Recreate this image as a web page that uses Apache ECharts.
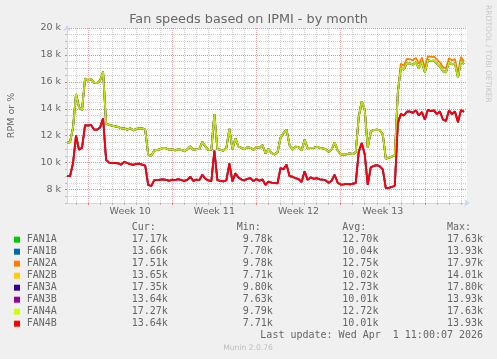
<!DOCTYPE html>
<html>
<head>
<meta charset="utf-8">
<script src="https://cdn.jsdelivr.net/npm/echarts@6/dist/echarts.min.js"></script>
<style>
html,body{margin:0;padding:0;background:#F0F0F0;}
#chart{width:497px;height:359px;}
</style>
</head>
<body>
<div id="chart"></div>
<script>
// ---------- data ----------
const chartTitle = 'Fan speeds based on IPMI - by month';
const yAxisTitle = 'RPM or %';
const fanNames  = ['FAN1A','FAN1B','FAN2A','FAN2B','FAN3A','FAN3B','FAN4A','FAN4B'];
const fanColors = ['#00CC00','#0066B3','#FF8000','#FFCC00','#330099','#990099','#CCFF00','#FF0000'];
const curVals = ['17.17k','13.66k','17.51k','13.65k','17.35k','13.64k','17.27k','13.64k'];
const minVals = ['9.78k','7.70k','9.78k','7.71k','9.80k','7.63k','9.79k','7.71k'];
const avgVals = ['12.70k','10.04k','12.75k','10.02k','12.73k','10.01k','12.72k','10.01k'];
const maxVals = ['17.63k','13.93k','17.97k','14.01k','17.80k','13.93k','17.63k','13.93k'];
const yTickValues = [8, 10, 12, 14, 16, 18, 20];       // thousands of RPM
const weekLabels = ['Week 10', 'Week 11', 'Week 12', 'Week 13'];
const lastUpdate = 'Last update: Wed Apr  1 11:00:07 2026';

// 6-hour samples (thousands of RPM), starting Fri Feb 27 2026 06:00
// "A" fans run together, "B" fans run together
const fanA = [
 11.5, 11.5, 12.6, 15.1, 14.1, 13.9, 16.25, 16.1, 16.2, 15.95,
 15.9, 16.1, 16.75, 12.9, 12.8, 12.75, 12.7, 12.65, 12.55, 12.55,
 12.45, 12.55, 12.4, 12.5, 12.55, 12.55, 12.45, 10.6, 10.5, 10.9,
 10.95, 11.0, 11.1, 11.05, 10.95, 11.0, 10.9, 11.0, 10.95, 10.85,
 11.0, 11.2, 10.95, 11.0, 11.0, 11.55, 11.2, 10.95, 10.95, 13.6,
 11.0, 10.95, 10.9, 11.1, 12.5, 11.0, 11.8, 11.2, 11.1, 11.0,
 11.15, 11.1, 10.95, 11.15, 11.1, 11.3, 10.7, 11.0, 10.72, 10.6,
 10.77, 11.85, 12.2, 12.45, 11.3, 10.96, 11.18, 11.15, 10.9, 11.7,
 11.05, 11.1, 11.1, 11.18, 11.1, 11.05, 11.0, 10.8, 10.98, 11.5,
 10.9, 10.62, 10.59, 10.62, 10.7, 10.62, 10.77, 13.4, 14.55, 13.93,
 11.1, 12.3, 12.42, 12.45, 12.4, 12.1, 10.3, 10.35, 10.45, 10.55,
 15.2, 17.05, 16.9, 17.4, 17.38, 17.28, 17.45, 17.0, 17.5, 16.7,
 17.6, 17.55, 17.58, 17.35, 17.14, 16.8, 16.7, 17.45, 17.3, 17.38,
 16.3, 17.55, 17.32
];
// FAN2A runs a little higher than the others during the last week (slots 111..132)
const fan2ALate = [
 17.35, 17.2, 17.7, 17.68, 17.6, 17.78, 17.35, 17.8, 17.05,
 17.9, 17.85, 17.88, 17.65, 17.45, 17.1, 17.0, 17.75, 17.6, 17.7,
 16.65, 17.85, 17.51
];
const fanB = [
 8.99, 8.99, 9.95, 12.0, 10.95, 11.1, 12.78, 12.75, 12.8, 12.45,
 12.45, 12.6, 13.3, 10.2, 10.0, 9.97, 9.97, 9.95, 9.85, 10.05,
 9.97, 9.88, 9.83, 9.9, 9.93, 9.85, 9.78, 8.35, 8.26, 8.7,
 8.7, 8.74, 8.76, 8.72, 8.65, 8.74, 8.7, 8.78, 8.7, 8.64,
 8.72, 8.95, 8.63, 8.74, 8.7, 9.1, 8.8, 8.68, 8.63, 10.9,
 8.7, 8.64, 8.6, 8.69, 9.95, 8.6, 9.2, 8.9, 8.74, 8.68,
 8.8, 8.85, 8.63, 8.79, 8.65, 8.75, 8.35, 8.58, 8.52, 8.49,
 8.45, 9.6, 9.5, 9.85, 8.99, 8.95, 8.84, 8.78, 8.55, 9.36,
 8.72, 8.9, 8.8, 8.85, 8.75, 8.73, 8.68, 8.5, 8.66, 9.1,
 8.5, 8.37, 8.39, 8.42, 8.38, 8.43, 8.48, 10.8, 11.45, 10.6,
 8.35, 9.65, 9.75, 9.82, 9.72, 9.5, 8.1, 8.12, 8.19, 8.28,
 12.95, 13.6, 13.5, 13.78, 13.8, 13.7, 13.88, 13.5, 13.75, 13.2,
 13.92, 13.82, 13.88, 13.6, 13.8, 13.2, 13.1, 13.88, 13.6, 13.8,
 13.0, 13.9, 13.78
];
const fan2A = fanA.slice(0, fanA.length - fan2ALate.length).concat(fan2ALate);
const fanSeriesData = [fanA, fanB, fan2A, fanB, fanA, fanB, fanA, fanB];

// ---------- time slots (category axis) ----------
const slotStartUTC = Date.UTC(2026, 1, 27, 6, 0, 0);
const slotMs = 6 * 3600 * 1000;
const slotCount = 134;
const categories = [];
const slotInfo = [];
const weekLabelBySlot = {};
let weekIdx = 0;
for (let i = 0; i < slotCount; i++) {
  const d = new Date(slotStartUTC + i * slotMs);
  categories.push(d.toISOString().slice(0, 13) + ':00');
  const h = d.getUTCHours(), wd = d.getUTCDay();
  slotInfo.push({ day: h === 0, week: h === 0 && wd === 0 });
  if (h === 12 && wd === 3 && weekIdx < weekLabels.length) weekLabelBySlot[i] = weekLabels[weekIdx++];
}
const isDay = i => !!(slotInfo[i] && slotInfo[i].day && !slotInfo[i].week);
const isWeek = i => !!(slotInfo[i] && slotInfo[i].week);
const isMid = i => weekLabelBySlot[i] !== undefined;

// ---------- styles ----------
const FONT = '#666666';
const AXIS = '#CFD6F8';
const minorGrid = { color: 'rgba(140,140,140,0.42)', width: 1, type: [1, 1] };
const majorGrid = { color: 'rgba(225,90,90,0.5)', width: 1, type: [1, 1] };
const lineOpacity = [1, 1, 1, 1, 1, 1, 0.9, 0.93];

const chart = echarts.init(document.getElementById('chart'), null, { renderer: 'canvas' });

const series = fanNames.map((n, k) => ({
  name: n,
  type: 'line',
  xAxisIndex: 0,
  yAxisIndex: 0,
  data: fanSeriesData[k],
  showSymbol: false,
  symbol: 'none',
  lineStyle: { color: fanColors[k], width: 1.8, opacity: lineOpacity[k] },
  itemStyle: { color: fanColors[k] },
  z: 3 + k,
  animation: false
}));

// text / legend graphics
const graphics = [];
const mono = '10px "DejaVu Sans Mono"';
function txt(x, y, text, opt) {
  opt = opt || {};
  return {
    type: 'text', x: x, y: y, silent: true,
    rotation: opt.rotation || 0,
    style: {
      text: text, fill: opt.fill || FONT, font: opt.font || mono,
      align: opt.align || 'left', verticalAlign: 'middle',
      textAlign: opt.align || 'left', textVerticalAlign: 'middle'
    }
  };
}
graphics.push(txt(248.5, 19.3, chartTitle, { align: 'center', font: '12.8px "DejaVu Sans"' }));
graphics.push(txt(12, 115.5, yAxisTitle, { align: 'center', font: '9.5px "DejaVu Sans"', rotation: Math.PI / 2 }));
graphics.push(txt(488, 5, 'RRDTOOL / TOBI OETIKER', { font: '7.6px "DejaVu Sans"', fill: '#c8c8c8', rotation: -Math.PI / 2 }));
const headerY = 227.3;
graphics.push(txt(131.7, headerY, 'Cur:'));
graphics.push(txt(236.7, headerY, 'Min:'));
graphics.push(txt(342.3, headerY, 'Avg:'));
graphics.push(txt(447, headerY, 'Max:'));
fanNames.forEach((n, k) => {
  const y = 239.7 + 12 * k;
  graphics.push({ type: 'rect', silent: true, shape: { x: 14, y: y - 3, width: 6, height: 6 }, style: { fill: fanColors[k] } });
  graphics.push(txt(26.7, y, n));
  graphics.push(txt(167.8, y, curVals[k], { align: 'right' }));
  graphics.push(txt(272.8, y, minVals[k], { align: 'right' }));
  graphics.push(txt(378.4, y, avgVals[k], { align: 'right' }));
  graphics.push(txt(483.1, y, maxVals[k], { align: 'right' }));
});
graphics.push(txt(483.1, 335.7, lastUpdate, { align: 'right' }));
graphics.push(txt(248, 348.3, 'Munin 2.0.76', { align: 'center', font: '7.6px "DejaVu Sans"', fill: '#bdbdbd' }));

const option = {
  animation: false,
  backgroundColor: '#F0F0F0',
  grid: { left: 67, top: 28, width: 400, height: 175, show: true, backgroundColor: '#FFFFFF', borderWidth: 0 },
  xAxis: [
    {
      type: 'category', data: categories, boundaryGap: false,
      axisLine: { show: true, onZero: false, lineStyle: { color: AXIS, width: 1 }, symbol: ['none', 'arrow'], symbolSize: [6, 6], symbolOffset: [0, 3] },
      axisTick: { show: true, interval: isDay, length: 2, lineStyle: { color: '#b8b8b8' } },
      axisLabel: { show: false },
      splitLine: { show: true, interval: isDay, lineStyle: minorGrid }
    },
    {
      type: 'category', data: categories, boundaryGap: false, position: 'bottom',
      axisLine: { show: false, onZero: false },
      axisTick: { show: true, interval: isWeek, length: 2, lineStyle: { color: '#e08080' } },
      axisLabel: {
        show: true, interval: isMid, margin: 4,
        formatter: (v, i) => weekLabelBySlot[i] || '',
        color: FONT, fontSize: 9.5, fontFamily: 'DejaVu Sans'
      },
      splitLine: { show: true, interval: isWeek, lineStyle: majorGrid }
    }
  ],
  yAxis: [
    {
      type: 'value', min: 7, max: 20, interval: 0.5,
      axisLine: { show: true, onZero: false, lineStyle: { color: AXIS, width: 1 }, symbol: ['none', 'arrow'], symbolSize: [6, 6], symbolOffset: [0, 3] },
      axisTick: { show: true, length: 2, lineStyle: { color: '#b8b8b8' } },
      axisLabel: { show: false },
      splitLine: { show: true, lineStyle: minorGrid }
    },
    {
      type: 'value', min: 7, max: 20, position: 'left', offset: 0,
      axisLine: { show: false, onZero: false },
      axisTick: { show: true, customValues: yTickValues, length: 2, lineStyle: { color: '#e08080' } },
      axisLabel: {
        show: true, customValues: yTickValues, margin: 6,
        formatter: v => v + ' k', color: FONT, fontSize: 9.5, fontFamily: 'DejaVu Sans'
      },
      splitLine: { show: true, lineStyle: majorGrid }
    }
  ],
  series: series,
  graphic: { elements: graphics }
};
chart.setOption(option);
</script>
</body>
</html>
